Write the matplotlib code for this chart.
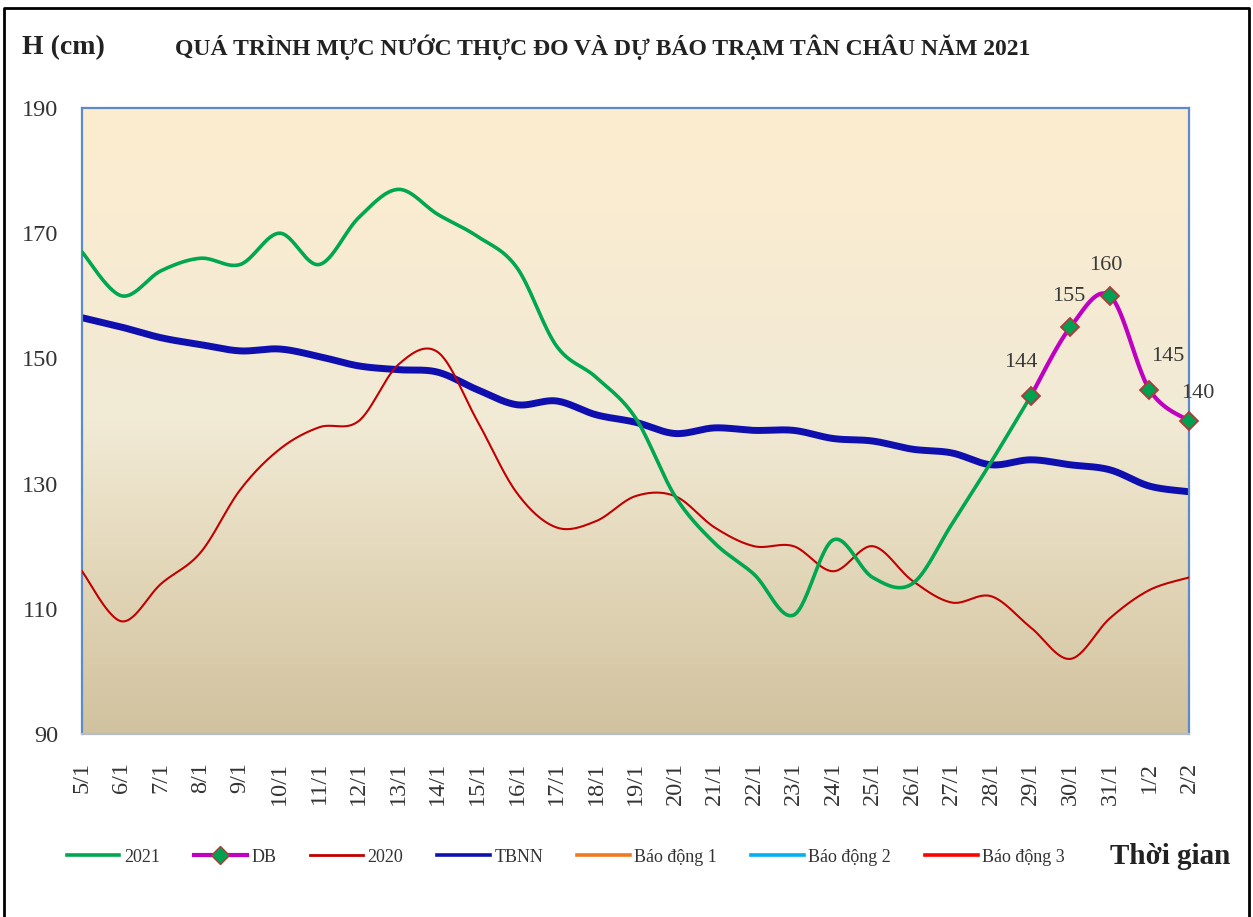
import numpy as np
import matplotlib
matplotlib.use("Agg")
import matplotlib.pyplot as plt
from matplotlib.lines import Line2D
from matplotlib.colors import LinearSegmentedColormap

# ---------------- data ----------------
dates = ['5/1', '6/1', '7/1', '8/1', '9/1', '10/1', '11/1', '12/1', '13/1', '14/1',
         '15/1', '16/1', '17/1', '18/1', '19/1', '20/1', '21/1', '22/1', '23/1', '24/1',
         '25/1', '26/1', '27/1', '28/1', '29/1', '30/1', '31/1', '1/2', '2/2']

h2021 = [167, 160, 164, 166, 165, 170, 165, 172.5, 177, 173, 169.5, 164.5, 152, 147,
         140.5, 128, 120.5, 115.5, 109, 121, 115, 114, 123.5, 133.5, 144]

db_dates = ['29/1', '30/1', '31/1', '1/2', '2/2']
db_vals = [144, 155, 160, 145, 140]

h2020 = [116, 108, 114, 119, 129, 135.5, 139, 140, 149, 151, 140, 128.5, 123, 124, 128,
         128, 123, 120, 120, 116, 120, 114.5, 111, 112, 107, 102, 108.5, 113, 115]

tbnn = [156.5, 155, 153.3, 152.2, 151.2, 151.5, 150.3, 148.8, 148.2, 147.8, 145, 142.6,
        143.2, 141, 139.8, 138, 138.9, 138.5, 138.5, 137.2, 136.8, 135.5, 134.9, 133,
        133.8, 133, 132.2, 129.6, 128.7]

bd1 = [350] * len(dates)
bd2 = [400] * len(dates)
bd3 = [450] * len(dates)

yticks = [90, 110, 130, 150, 170, 190]

# ---------------- helpers ----------------
def smooth(x, y, n=30):
    pts = np.column_stack([x, y]).astype(float)
    P = np.vstack([pts[0], pts, pts[-1]])
    out = []
    t = np.linspace(0, 1, n)[:, None]
    for i in range(1, len(P) - 2):
        p0, p1, p2, p3 = P[i - 1], P[i], P[i + 1], P[i + 2]
        c1 = p1 + (p2 - p0) / 6.0
        c2 = p2 - (p3 - p1) / 6.0
        seg = (1 - t) ** 3 * p1 + 3 * (1 - t) ** 2 * t * c1 + 3 * (1 - t) * t ** 2 * c2 + t ** 3 * p2
        out.append(seg if i == 1 else seg[1:])
    s = np.vstack(out)
    return s[:, 0], s[:, 1]

serif = ['Liberation Serif', 'DejaVu Serif']
plt.rcParams['font.family'] = serif

W, H = 1253, 917
fig = plt.figure(figsize=(W / 100, H / 100), dpi=100)
fig.patch.set_facecolor('white')

ax = fig.add_axes([82 / W, 1 - 734 / H, (1189 - 82) / W, (734 - 108) / H])

idx = {d: i for i, d in enumerate(dates)}
xall = np.arange(len(dates))

# gradient background
cmap = LinearSegmentedColormap.from_list(
    'bg', [(0.0, '#D1C29F'), (0.25, '#E2D6B8'), (0.5, '#F1EAD5'), (1.0, '#FDEDCF')])
grad = np.linspace(0, 1, 256)[:, None]
ax.imshow(grad, extent=[0, 28, 90, 190], origin='lower', aspect='auto', cmap=cmap,
          zorder=0, interpolation='bicubic')

# series
x1, y1 = smooth(xall[:len(h2021)], h2021)
ax.plot(x1, y1, color='#00A650', lw=2.6, zorder=4, solid_capstyle='round')

xd = [idx[d] for d in db_dates]
xs, ys = smooth(xd, db_vals)
ax.plot(xs, ys, color='#C000C0', lw=3.0, zorder=5, solid_capstyle='round')
ax.plot(xd, db_vals, ls='none', marker='D', ms=9, mfc='#00A050', mec='#B03A3A',
        mew=1.3, zorder=6, clip_on=False)

x2, y2 = smooth(xall, h2020)
ax.plot(x2, y2, color='#C00000', lw=1.5, zorder=3)

x3, y3 = smooth(xall, tbnn)
ax.plot(x3, y3, color='#0F0FB0', lw=5.0, zorder=2, solid_capstyle='round')

ax.plot(xall, bd1, color='#F07820', lw=2)
ax.plot(xall, bd2, color='#00B0F0', lw=2)
ax.plot(xall, bd3, color='#FF0000', lw=2)

# data labels
offsets = [(-7, 24), (-1, 22), (-3, 22), (13, 24), (6, 20)]
for xv, yv, off in zip(xd, db_vals, offsets):
    ax.annotate(str(yv), (xv, yv), xytext=off, textcoords='offset points',
                ha='center', va='center', fontsize=16, color='#3A3A3A', zorder=7,
                annotation_clip=False)

# axes styling
ax.set_xlim(0, 28)
ax.set_ylim(90, 190)
ax.set_yticks(yticks)
ax.set_yticklabels([str(v) for v in yticks])
ax.set_xticks(xall)
ax.set_xticklabels(dates, rotation=90)
ax.tick_params(axis='y', length=0, pad=17, labelsize=17.5, labelcolor='#333333')
ax.tick_params(axis='x', length=0, pad=20, labelsize=17.5, labelcolor='#333333')
for s in ['left', 'top', 'right']:
    ax.spines[s].set_color('#5E8AC6')
    ax.spines[s].set_linewidth(1.6)
ax.spines['bottom'].set_color('#B4BCC8')
ax.spines['bottom'].set_linewidth(1.6)

# texts
fig.text(22 / W, 1 - 48 / H, 'H (cm)', fontsize=20, fontweight='bold', ha='left',
         va='center', color='#222222')
fig.text(603 / W, 1 - 47 / H, 'QUÁ TRÌNH MỰC NƯỚC THỰC ĐO VÀ DỰ BÁO TRẠM TÂN CHÂU NĂM 2021',
         fontsize=17, fontweight='bold', ha='center', va='center', color='#222222')
fig.text(1170 / W, 1 - 857 / H, 'Thời gian', fontsize=21, fontweight='bold',
         ha='center', va='center', color='#222222')

# legend
handles = [
    Line2D([], [], color='#00A650', lw=2.6),
    Line2D([], [], color='#C000C0', lw=3.0, marker='D', ms=9, mfc='#00A050',
           mec='#B03A3A', mew=1.0),
    Line2D([], [], color='#C00000', lw=2.0),
    Line2D([], [], color='#0F0FB0', lw=2.6),
    Line2D([], [], color='#F07820', lw=2.6),
    Line2D([], [], color='#00B0F0', lw=2.6),
    Line2D([], [], color='#FF0000', lw=2.6),
]
labels = ['2021', 'DB', '2020', 'TBNN', 'Báo động 1', 'Báo động 2', 'Báo động 3']
leg = fig.legend(handles, labels, loc='center', bbox_to_anchor=(566 / W, 1 - 857 / H),
                 ncol=7, frameon=False, fontsize=13, handlelength=2.9,
                 handletextpad=0.25, columnspacing=1.9, labelcolor='#333333')

# outer frame (left, top, right)
fx = [4 / W, 4 / W, 1249 / W, 1249 / W]
fy = [-0.01, 1 - 8 / H, 1 - 8 / H, -0.01]
fig.add_artist(Line2D(fx, fy, transform=fig.transFigure, color='black', lw=2))

fig.savefig('out.png', dpi=100)
